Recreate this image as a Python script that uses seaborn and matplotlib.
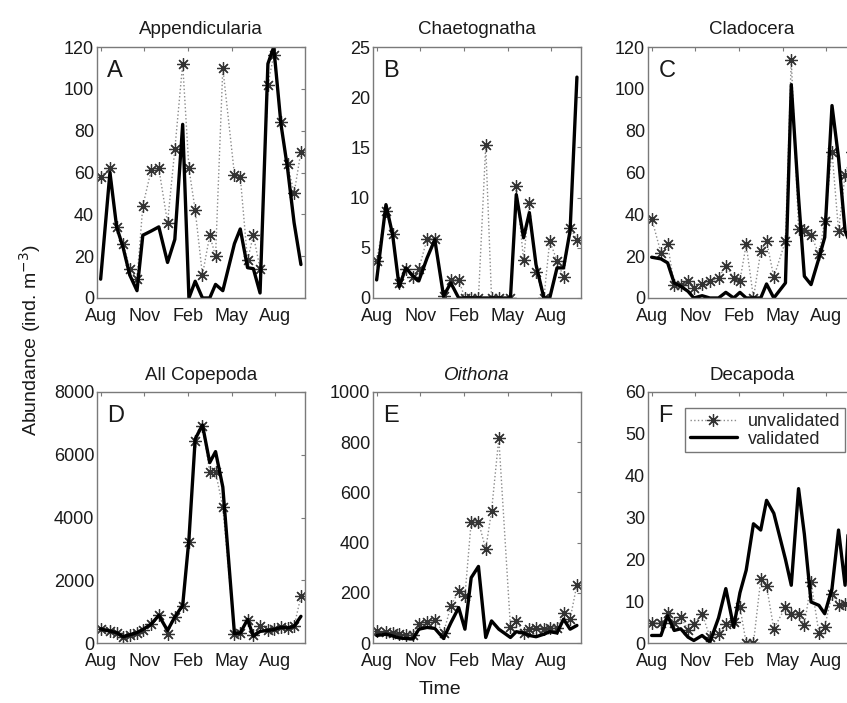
import numpy as np
import pandas as pd
import matplotlib
matplotlib.use("Agg")
import matplotlib.pyplot as plt
import seaborn as sns

# sampling dates, months since the first August
t = [0, 0.64, 1.1, 1.55, 2.0, 2.5, 2.9, 3.47, 4.0, 4.6, 5.1, 5.64, 6.07, 6.5, 7.0,
     7.5, 7.9, 8.4, 9.2, 9.6, 10.1, 10.5, 10.96, 11.5, 11.9, 12.4, 12.85, 13.3, 13.77]

month_ticks = [0, 3, 6, 9, 12]
month_labels = ["Aug", "Nov", "Feb", "May", "Aug"]

# A: Appendicularia
appen_unval = [58, 62, 34, 26, 14, 9, 44, 61, 62, 36, 71, 112, 62, 42, 11, 30, 20, 110,
               59, 58, 18, 30, 14, 102, 116, 84, 64, 50, 70]
appen_val = [9, 60, 34, 24, 11, 3.5, 30, 32, 34, 17, 28, 83, 0, 8, 0, 0, 6.5, 3.5,
             26, 33, 14.5, 14, 2.4, 112, 120, 83, 62, 36, 16]

# B: Chaetognatha
chaet_unval = [3.7, 8.7, 6.4, 1.5, 2.9, 2.1, 2.9, 5.9, 5.9, 0.2, 1.8, 1.8, 0, 0, 0, 15.2,
               0, 0, 0, 11.2, 3.8, 9.5, 2.6, 0, 5.7, 3.7, 2.1, 7.0, 5.8]
chaet_val = [1.8, 9.3, 6.3, 1.1, 3.0, 2.2, 1.7, 4.0, 5.8, 0.2, 1.5, 0, 0, 0, 0, 0,
             0, 0, 0, 10.3, 6.0, 8.5, 3.3, 0, 0, 3.0, 3.0, 6.7, 22]

# C: Cladocera
clado_unval = [38, 21.6, 25.6, 6.4, 6.4, 8.3, 4.8, 6.9, 8, 9.6, 15.5, 9.6, 8.3, 25.6, 0,
               22.4, 27.2, 10, 27.2, 114, 32.8, 32.3, 30, 21, 36.8, 70, 32, 59, 70]
clado_val = [19.5, 18.7, 16.8, 7.2, 5.6, 3.2, 0, 1.1, 0, 0, 2.7, 0, 2.7, 0, 0,
             0, 6.7, 0, 7.2, 102, 48, 10.4, 6.4, 19, 29, 92, 67, 32, 24]

# D: All Copepoda
cope_unval = [450, 370, 330, 200, 260, 330, 430, 600, 880, 300, 830, 1180, 3220, 6450, 6930,
              5450, 5450, 4330, 280, 330, 720, 250, 540, 400, 440, 500, 480, 530, 1490]
cope_val = [450, 380, 330, 200, 260, 330, 430, 600, 880, 400, 830, 1200, 3300, 6500, 6950,
            5750, 6100, 4970, 300, 320, 750, 220, 370, 400, 430, 500, 480, 530, 850]

# E: Oithona
oith_unval = [49, 42, 40, 36, 32, 30, 75, 85, 90, 40, 147, 207, 187, 483, 483,
              374, 526, 816, 63, 88, 40, 55, 60, 55, 60, 60, 121, 95, 233]
oith_val = [30, 35, 28, 20, 18, 16, 55, 62, 58, 18, 80, 141, 55, 260, 305,
            22, 88, 55, 22, 45, 40, 30, 25, 35, 45, 40, 95, 55, 70]

# F: Decapoda
deca_unval = [4.8, 4.8, 7.2, 4.8, 6.2, 3.2, 4.6, 7.0, 1.5, 2.2, 4.6, 5.0, 8.6, 0, 0,
              15.2, 13.6, 3.4, 8.6, 7.0, 7.0, 4.2, 14.6, 2.4, 3.8, 11.8, 9.0, 9.4, 9.5]
deca_val = [1.8, 1.8, 6.5, 3.0, 3.4, 1.4, 0.6, 1.8, 0.2, 6, 13, 3.8, 12, 17.4, 28.5,
            27, 34.1, 31, 20, 13.8, 36.9, 26, 9.8, 9, 7, 13, 27, 13.8, 42]

panels = [
    ("Appendicularia", "A", appen_unval, appen_val, 120, 20),
    ("Chaetognatha", "B", chaet_unval, chaet_val, 25, 5),
    ("Cladocera", "C", clado_unval, clado_val, 120, 20),
    ("All Copepoda", "D", cope_unval, cope_val, 8000, 2000),
    ("Oithona", "E", oith_unval, oith_val, 1000, 200),
    ("Decapoda", "F", deca_unval, deca_val, 60, 10),
]

sns.set_style("white")
plt.rcParams["font.family"] = ["Liberation Sans", "DejaVu Sans"]

W, H = 847, 703
fig = plt.figure(figsize=(W / 100, H / 100), dpi=100)

lefts = [97, 373, 648]
tops = [47, 392]
aw, ah = 208, 251

# matlab-like asterisk marker
asterisk = (8, 2, 0)

for i, (name, letter, unval, val, ymax, ystep) in enumerate(panels):
    row, col = divmod(i, 3)
    ax = fig.add_axes([lefts[col] / W, 1 - (tops[row] + ah) / H, aw / W, ah / H])
    df = pd.DataFrame({"t": t, "unvalidated": unval, "validated": val})

    sns.lineplot(data=df, x="t", y="unvalidated", ax=ax, color="#8a8a8a",
                 linestyle=":", linewidth=1.0, marker=asterisk, markersize=9,
                 markeredgecolor="#333333", markeredgewidth=0.9,
                 label="unvalidated")
    sns.lineplot(data=df, x="t", y="validated", ax=ax, color="black",
                 linewidth=2.4, label="validated")

    ax.set_xlim(-0.25, 14.05)
    ax.set_ylim(0, ymax)
    ax.set_xticks(month_ticks)
    ax.set_xticklabels(month_labels)
    ax.set_yticks(np.arange(0, ymax + ystep / 2, ystep))
    ax.set_xlabel("")
    ax.set_ylabel("")
    ax.tick_params(direction="in", length=3, width=0.8, top=True, right=True,
                   labelsize=13, colors="#7a7a7a", labelcolor="#1a1a1a", pad=2)
    ax.tick_params(axis="x", pad=7.5)
    for sp in ax.spines.values():
        sp.set_visible(True)
        sp.set_color("#7a7a7a")
        sp.set_linewidth(1.0)

    title_style = "italic" if name == "Oithona" else "normal"
    ax.set_title(name, fontsize=13.5, style=title_style, color="#1a1a1a", pad=9)
    ax.text(0.05, 0.95, letter, transform=ax.transAxes, fontsize=17,
            va="top", ha="left", color="#1a1a1a")

    if letter == "F":
        ax.legend(loc="upper left", bbox_to_anchor=(0.18, 0.935), fontsize=13,
                  frameon=True, fancybox=False, edgecolor="#555555",
                  handlelength=2.6, borderpad=0.25, labelspacing=0.05,
                  handletextpad=0.6, borderaxespad=0)
    else:
        ax.get_legend().remove()

fig.text(30 / W, 1 - 340 / H, "Abundance (ind. m$^{-3}$)", rotation=90,
         ha="center", va="center", fontsize=14, color="#1a1a1a")
fig.text(440 / W, 1 - 690 / H, "Time", ha="center", va="center",
         fontsize=14, color="#1a1a1a")

fig.savefig("out.png", dpi=100)
